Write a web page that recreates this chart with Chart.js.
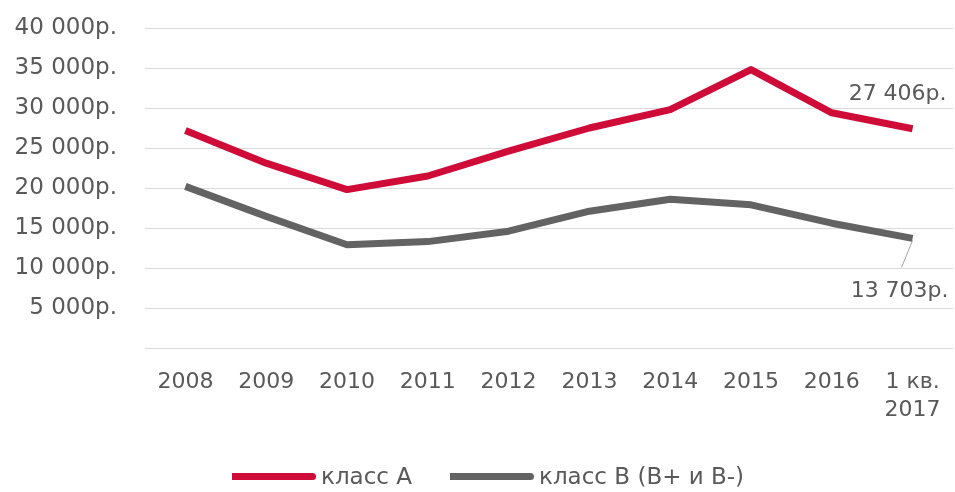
<!DOCTYPE html>
<html lang="ru">
<head>
<meta charset="utf-8">
<script src="https://cdn.jsdelivr.net/npm/chart.js@4.4.1/dist/chart.umd.min.js"></script>
<style>
  html, body { margin: 0; padding: 0; background: #fff; }
  #wrap { position: relative; width: 955px; height: 492px; }
  #legend {
    position: absolute; left: 232px; top: 463px;
    font-family: "DejaVu Sans", sans-serif; font-size: 23px; color: #595959;
    display: flex; align-items: center; white-space: nowrap;
  }
  #legend .item { display: flex; align-items: center; margin-right: 38px; }
  #legend .swatch { width: 84px; height: 7px; border-radius: 0 4px 4px 0; margin-right: 5px; }
</style>
</head>
<body>
<div id="wrap">
  <canvas id="rentChart" width="955" height="492"></canvas>
  <div id="legend"></div>
</div>
<script>
  // Годы / периоды
  const categories = ['2008', '2009', '2010', '2011', '2012', '2013', '2014', '2015', '2016', ['1 кв.', '2017']];
  // Ставки аренды, руб.
  const classA = [27200, 23100, 19800, 21500, 24600, 27500, 29800, 34800, 29400, 27406];
  const classB = [20200, 16450, 12900, 13300, 14600, 17100, 18600, 17900, 15600, 13703];
  const seriesNames = ['класс А', 'класс В (В+ и В-)'];
  const seriesColors = ['#cf0b38', '#636363'];
  // Деления оси Y
  const yMin = 0;
  const yMax = 40000;
  const yStep = 5000;

  const fontFamily = '"DejaVu Sans", sans-serif';
  const textColor = '#595959';

  function rub(v) {
    return String(v).replace(/\B(?=(\d{3})+(?!\d))/g, ' ') + 'р.';
  }

  // Подписи последних значений
  const lastValueLabels = {
    id: 'lastValueLabels',
    afterDatasetsDraw(chart) {
      const ctx = chart.ctx;
      ctx.save();
      ctx.font = '22px ' + fontFamily;
      ctx.fillStyle = textColor;
      ctx.textAlign = 'center';
      ctx.textBaseline = 'middle';

      const a = chart.getDatasetMeta(0).data[classA.length - 1];
      ctx.fillText(rub(classA[classA.length - 1]), a.x - 15, a.y - 34);

      const b = chart.getDatasetMeta(1).data[classB.length - 1];
      ctx.strokeStyle = '#a6a6a6';
      ctx.lineWidth = 1;
      ctx.beginPath();
      ctx.moveTo(b.x, b.y + 2);
      ctx.lineTo(b.x - 11, b.y + 29);
      ctx.stroke();
      ctx.fillText(rub(classB[classB.length - 1]), b.x - 13, b.y + 53);
      ctx.restore();
    }
  };

  const chart = new Chart(document.getElementById('rentChart'), {
    type: 'line',
    data: {
      labels: categories,
      datasets: [
        { label: seriesNames[0], data: classA, borderColor: seriesColors[0], backgroundColor: seriesColors[0] },
        { label: seriesNames[1], data: classB, borderColor: seriesColors[1], backgroundColor: seriesColors[1] }
      ]
    },
    options: {
      responsive: false,
      animation: false,
      layout: { padding: { top: 28, right: 2, left: 0, bottom: 0 } },
      elements: {
        line: { borderWidth: 7, tension: 0, borderJoinStyle: 'round', borderCapStyle: 'butt' },
        point: { radius: 0, hoverRadius: 0 }
      },
      plugins: {
        legend: { display: false },
        tooltip: { enabled: false }
      },
      scales: {
        x: {
          offset: true,
          grid: { display: false, drawTicks: false },
          border: { display: false },
          ticks: {
            color: textColor,
            font: { family: fontFamily, size: 22, lineHeight: 1.25 },
            padding: 21,
            maxRotation: 0,
            autoSkip: false
          },
          afterFit(s) {
            s.height = 144;
            s.paddingLeft = 0;
            s.paddingRight = 0;
          }
        },
        y: {
          min: yMin,
          max: yMax,
          grid: { color: '#d9d9d9', lineWidth: 1, drawTicks: false },
          border: { display: false },
          ticks: {
            stepSize: yStep,
            color: textColor,
            font: { family: fontFamily, size: 23 },
            padding: 28,
            callback: v => v === 0 ? '' : rub(v)
          },
          afterFit(s) {
            s.width = 145;
            s.paddingTop = 0;
            s.paddingBottom = 0;
          }
        }
      }
    },
    plugins: [lastValueLabels]
  });

  // Легенда под графиком
  const legendEl = document.getElementById('legend');
  chart.data.datasets.forEach(ds => {
    const item = document.createElement('div');
    item.className = 'item';
    const sw = document.createElement('span');
    sw.className = 'swatch';
    sw.style.background = ds.borderColor;
    const txt = document.createElement('span');
    txt.textContent = ds.label;
    item.appendChild(sw);
    item.appendChild(txt);
    legendEl.appendChild(item);
  });
</script>
</body>
</html>
